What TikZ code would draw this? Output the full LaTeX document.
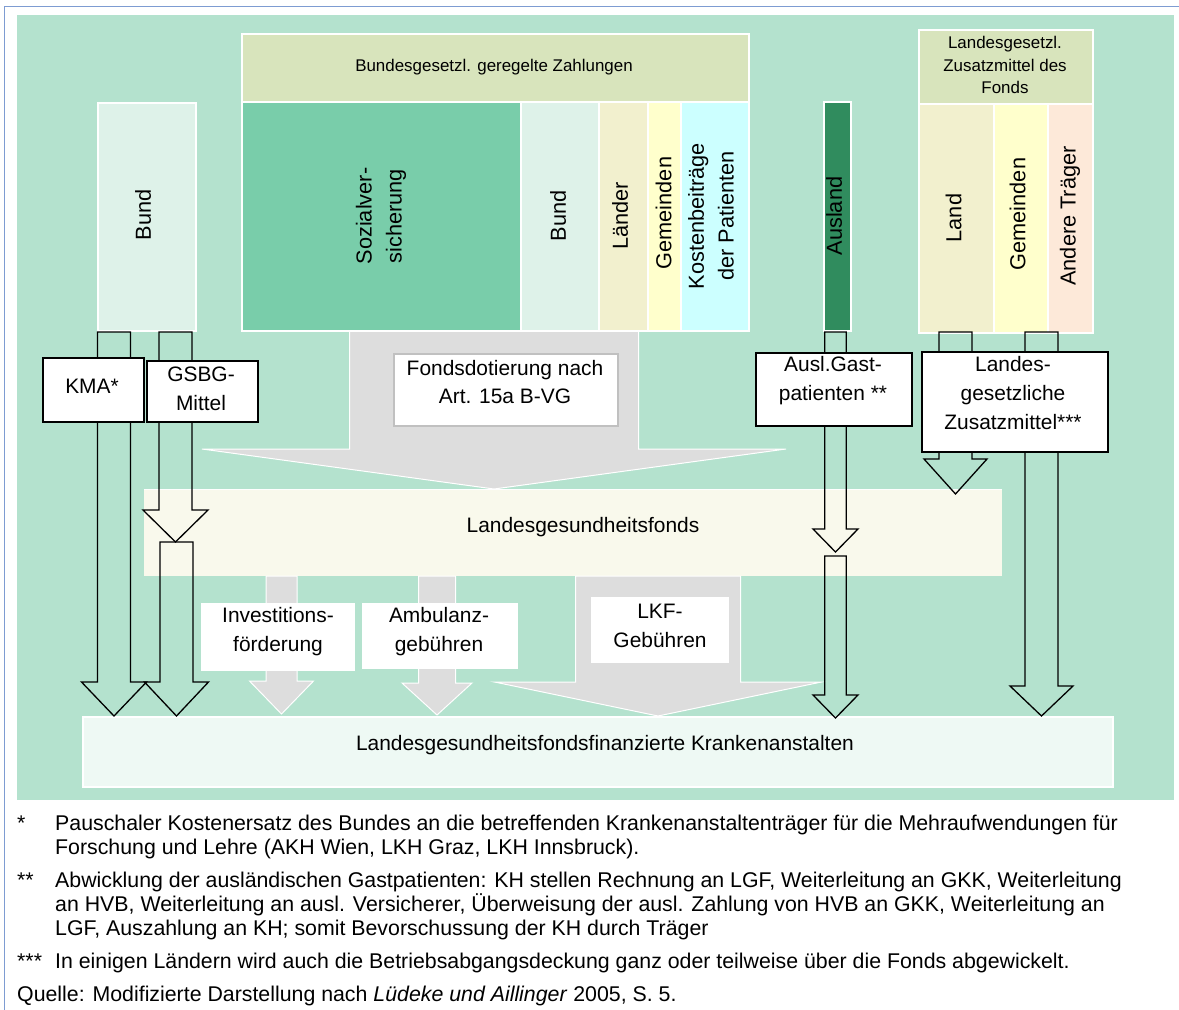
\documentclass[tikz,border=0pt]{standalone}
\usepackage{fontspec}
\setmainfont{Liberation Sans}
\definecolor{bgG}{RGB}{180,226,206}
\definecolor{hdr}{RGB}{216,228,188}
\definecolor{sozC}{RGB}{121,205,170}
\definecolor{bundC}{RGB}{222,242,233}
\definecolor{laenC}{RGB}{242,240,206}
\definecolor{gemC}{RGB}{255,255,204}
\definecolor{kostC}{RGB}{204,255,255}
\definecolor{auslC}{RGB}{48,140,94}
\definecolor{andC}{RGB}{253,233,217}
\definecolor{fondC}{RGB}{249,249,236}
\definecolor{kaC}{RGB}{238,249,244}
\definecolor{greyA}{RGB}{221,221,221}
\definecolor{frameB}{RGB}{126,156,210}
\definecolor{boxGrey}{RGB}{192,192,192}
\newcommand\blockarr[7]{%
  \draw[#7] ({#1-#2},#4) -- ({#1+#2},#4) -- ({#1+#2},#5) -- ({#1+#3},#5)
     -- (#1,#6) -- ({#1-#3},#5) -- ({#1-#2},#5) -- cycle;}
\begin{document}
\begin{tikzpicture}[x=1bp,y=-1bp,
  lbl/.style={font=\fontsize{21}{29}\selectfont, align=center, inner sep=0pt},
  smalllbl/.style={font=\fontsize{17}{23}\selectfont, align=center, inner sep=0pt},
  vlbl/.style={font=\fontsize{21.8}{30}\selectfont, align=center, inner sep=0pt, rotate=90},
  panel/.style={draw=white, line width=1.5bp, inner sep=0pt, anchor=north west},
  blackbox/.style={draw=black, line width=1.8bp, fill=white, inner sep=0pt, anchor=north west},
  whitebox/.style={fill=white, inner sep=0pt, anchor=north west},
  outlinearr/.style={draw=black, line width=1.3bp, line join=miter},
  greyarr/.style={fill=greyA, draw=white, line width=1bp},
  foot/.style={font=\fontsize{21.4}{24}\selectfont, anchor=base west, inner sep=0pt}
]
\clip (0,0) rectangle (1179,1010);
\useasboundingbox (0,0) rectangle (1179,1010);
\fill[white] (0,0) rectangle (1179,1010);
% frame
\draw[frameB, line width=1.5bp] (4.5,6.5) rectangle (1200,1030);
% green background
\fill[bgG] (17,15) rectangle (1174,800);

% big grey arrow (Fondsdotierung)
\blockarr{494}{144.5}{292}{327}{449}{489}{greyarr}

% top panels
\node[panel, fill=bundC, minimum width=98bp, minimum height=228bp] (bundL) at (97,102) {};
\node[panel, fill=hdr, minimum width=507bp, minimum height=68bp] (hdrB) at (241,33) {};
\node[panel, fill=sozC, minimum width=279bp, minimum height=229bp] (soz) at (241,101) {};
\node[panel, fill=bundC, minimum width=78bp, minimum height=229bp] (bundM) at (520,101) {};
\node[panel, fill=laenC, minimum width=49bp, minimum height=229bp] (laen) at (598,101) {};
\node[panel, fill=gemC, minimum width=33bp, minimum height=229bp] (gem) at (647,101) {};
\node[panel, fill=kostC, minimum width=68bp, minimum height=229bp] (kost) at (680,101) {};
\node[panel, fill=auslC, minimum width=27bp, minimum height=229bp] (ausl) at (823,101) {};
\node[panel, fill=hdr, minimum width=174bp, minimum height=74bp] (hdrL) at (918,29) {};
\node[panel, fill=laenC, minimum width=75bp, minimum height=229bp] (land) at (918,103) {};
\node[panel, fill=gemC, minimum width=54bp, minimum height=229bp] (gemL) at (993,103) {};
\node[panel, fill=andC, minimum width=45bp, minimum height=229bp] (and) at (1047,103) {};

% bands
\node[inner sep=0pt, anchor=north west, fill=fondC, minimum width=858bp, minimum height=87bp] (lgf) at (144,489) {};
\draw[white, line width=1bp] (lgf.north west) -- (lgf.north east);

% lower grey arrows
\blockarr{281.5}{15.5}{32}{576}{681}{714}{greyarr}
\blockarr{437}{18.5}{35}{576}{683}{715}{greyarr}
\blockarr{658}{82.5}{163.5}{576}{682}{716}{greyarr}

\node[inner sep=0pt, anchor=north west, fill=kaC, draw=white, line width=1.5bp, minimum width=1030bp, minimum height=70bp] (ka) at (82,716) {};

% outline arrows
\blockarr{114}{16.5}{32.5}{332}{682}{716}{outlinearr}
\blockarr{175.5}{16.5}{32.5}{332}{510}{542}{outlinearr}
\blockarr{176.5}{16.5}{32}{542}{682}{716}{outlinearr}
\blockarr{835.5}{10.7}{22.5}{332}{529}{552}{outlinearr}
\blockarr{835.5}{10.7}{22.5}{556}{695}{718}{outlinearr}
\blockarr{955.5}{16.5}{31.5}{332}{459}{494}{outlinearr}
\blockarr{1041.5}{16.5}{31.5}{332}{686}{716}{outlinearr}

% label boxes
\node[blackbox, minimum width=101bp, minimum height=64bp] (kma) at (42,357) {};
\node[blackbox, minimum width=111bp, minimum height=61bp] (gsbg) at (146,360) {};
\node[whitebox, draw=boxGrey, line width=2bp, minimum width=224bp, minimum height=72bp] (fdot) at (393,353) {};
\node[blackbox, minimum width=156bp, minimum height=73bp] (agast) at (755,352) {};
\node[blackbox, minimum width=186bp, minimum height=100bp] (lzus) at (921,351) {};
\node[whitebox, minimum width=154bp, minimum height=68bp] (inv) at (201,603) {};
\node[whitebox, minimum width=156bp, minimum height=66bp] (amb) at (362,603) {};
\node[whitebox, minimum width=138bp, minimum height=66bp] (lkf) at (591,597) {};

% texts
\node[smalllbl] (thdr) at (494,67) {Bundesgesetzl. geregelte Zahlungen};
\node[smalllbl] (thdrL) at (1005,65) {Landesgesetzl.\\Zusatzmittel des\\Fonds};
\node[vlbl] (tbundL) at (143,215) {Bund};
\node[vlbl] (tsoz) at (381,216) {Sozialver-\\sicherung};
\node[vlbl] (tbundM) at (558,216) {Bund};
\node[vlbl] (tlaen) at (620,216) {Länder};
\node[vlbl] (tgem) at (663.5,213) {Gemeinden};
\node[vlbl] (tkost) at (711,216) {Kostenbeiträge\\der Patienten};
\node[vlbl] (tausl) at (834,216) {Ausland};
\node[vlbl] (tland) at (953.5,218) {Land};
\node[vlbl] (tgemL) at (1017.5,214) {Gemeinden};
\node[vlbl] (tand) at (1070,216) {Andere Träger};

\node[lbl] (tkma) at (92,386) {KMA*};
\node[lbl] (tgsbg) at (201,389) {GSBG-\\Mittel};
\node[lbl] (tfdot) at (505,382) {Fondsdotierung nach\\Art. 15a B-VG};
\node[lbl] (tagast) at (833,381) {Ausl.Gast-\\patienten **};
\node[lbl] (tlzus) at (1013,393) {Landes-\\gesetzliche\\Zusatzmittel***};
\node[lbl] (tlgf) at (583,527) {Landesgesundheitsfonds};
\node[lbl] (tinv) at (278,632) {Investitions-\\förderung};
\node[lbl] (tamb) at (439,632) {Ambulanz-\\gebühren};
\node[lbl] (tlkf) at (660,626) {LKF-\\Gebühren};
\node[lbl] (tka) at (605,745) {Landesgesundheitsfondsfinanzierte Krankenanstalten};

% footnotes
\node[foot] (m1) at (17,830) {*};
\node[foot] (f1a) at (55,830) {Pauschaler Kostenersatz des Bundes an die betreffenden Krankenanstaltenträger für die Mehraufwendungen für};
\node[foot] (f1b) at (55,854) {Forschung und Lehre (AKH Wien, LKH Graz, LKH Innsbruck).};
\node[foot] (m2) at (17,887) {**};
\node[foot] (f2a) at (55,887) {Abwicklung der ausländischen Gastpatienten: KH stellen Rechnung an LGF, Weiterleitung an GKK, Weiterleitung};
\node[foot] (f2b) at (55,911) {an HVB, Weiterleitung an ausl. Versicherer, Überweisung der ausl. Zahlung von HVB an GKK, Weiterleitung an};
\node[foot] (f2c) at (55,935) {LGF, Auszahlung an KH; somit Bevorschussung der KH durch Träger};
\node[foot] (m3) at (17,968) {***};
\node[foot] (f3) at (55,968) {In einigen Ländern wird auch die Betriebsabgangsdeckung ganz oder teilweise über die Fonds abgewickelt.};
\node[foot] (q) at (17,1001) {Quelle: Modifizierte Darstellung nach \textit{Lüdeke und Aillinger} 2005, S. 5.};
\end{tikzpicture}
\end{document}
